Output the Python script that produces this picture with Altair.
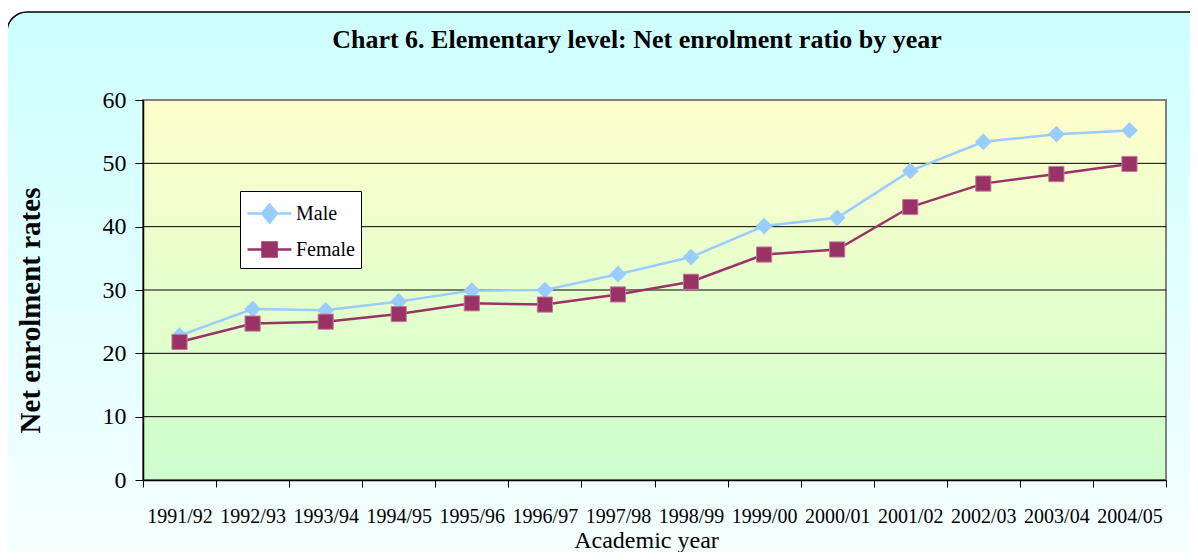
import altair as alt
import pandas as pd

years = ["1991/92", "1992/93", "1993/94", "1994/95", "1995/96", "1996/97", "1997/98",
         "1998/99", "1999/00", "2000/01", "2001/02", "2002/03", "2003/04", "2004/05"]
male = [22.8, 27.0, 26.8, 28.2, 29.9, 30.0, 32.5, 35.2, 40.1, 41.4, 48.8, 53.4, 54.6, 55.2]
female = [21.8, 24.7, 25.0, 26.2, 27.9, 27.7, 29.3, 31.3, 35.6, 36.4, 43.1, 46.8, 48.3, 49.9]
series_names = ["Male", "Female"]
series_colors = ["#99CCFF", "#993366"]
y_ticks = [0, 10, 20, 30, 40, 50, 60]
grid_values = [10, 20, 30, 40, 50]
title_text = "Chart 6. Elementary level: Net enrolment ratio by year"
x_title = "Academic year"
y_title = "Net enrolment rates"

W, H = 1023, 380
FONT = "Liberation Serif"

df = pd.DataFrame({
    "year": years * 2,
    "series": ["Male"] * len(years) + ["Female"] * len(years),
    "value": male + female,
})

x_axis = alt.Axis(title=x_title, labelAngle=0, tickBand="extent", tickSize=7, tickColor="black",
                  tickWidth=1, domainColor="black", domainWidth=1.5, labelFont=FONT, labelFontSize=20,
                  labelColor="black", labelBaseline="alphabetic", labelPadding=35, labelOverlap=False,
                  titleFont=FONT, titleFontSize=24, titleFontWeight="normal", titleColor="black",
                  titleX=503, titleY=67, titleAlign="center", titleBaseline="alphabetic",
                  grid=False, zindex=1)
y_axis = alt.Axis(values=y_ticks, title=y_title, tickSize=8, tickColor="black", domainColor="black",
                  domainWidth=1.5, labelFont=FONT, labelFontSize=24, labelColor="black", labelPadding=9,
                  titleFont=FONT, titleFontSize=29, titleFontWeight="bold", titleColor="black",
                  titleAngle=270, titleX=-104, titleY=210, titleAlign="center",
                  titleBaseline="alphabetic", grid=False, zindex=1)

x_scale = alt.Scale(type="band", domain=years, paddingInner=0, paddingOuter=0)
y_scale = alt.Scale(domain=[0, 60])
color_scale = alt.Scale(domain=series_names, range=series_colors)

x_enc = alt.X("year:N", sort=years, bandPosition=0.5, scale=x_scale, axis=x_axis)
y_enc = alt.Y("value:Q", scale=y_scale, axis=y_axis)

one = pd.DataFrame({"k": [0]})

outer_grad = alt.LinearGradient(gradient="linear", x1=0, x2=0, y1=0, y2=1,
                                stops=[alt.GradientStop(color="#CCFFFF", offset=0),
                                       alt.GradientStop(color="#F8FFFF", offset=1)])
plot_grad = alt.LinearGradient(gradient="linear", x1=0, x2=0, y1=0, y2=1,
                               stops=[alt.GradientStop(color="#FFFFCC", offset=0),
                                      alt.GradientStop(color="#CCFFCC", offset=1)])

outer_bg = alt.Chart(one).mark_rect(fill=outer_grad, stroke="black", strokeWidth=1.5,
                                    cornerRadius=20).encode(
    x=alt.value(-136), x2=alt.value(W + 60), y=alt.value(-88), y2=alt.value(H + 100))

plot_bg = alt.Chart(one).mark_rect(fill=plot_grad, stroke="#808080", strokeWidth=2).encode(
    x=alt.value(0), x2=alt.value(W), y=alt.value(0), y2=alt.value(H))

grid = alt.Chart(pd.DataFrame({"g": grid_values})).mark_rule(color="black", strokeWidth=1).encode(
    y=alt.Y("g:Q", scale=y_scale, axis=y_axis), x=alt.value(0), x2=alt.value(W))

lines_m = alt.Chart(df).transform_filter(alt.datum.series == "Male").mark_line(strokeWidth=2.5).encode(
    x=x_enc, y=y_enc, color=alt.Color("series:N", scale=color_scale, legend=None))
lines_f = alt.Chart(df).transform_filter(alt.datum.series == "Female").mark_line(strokeWidth=2.5).encode(
    x=x_enc, y=y_enc, color=alt.Color("series:N", scale=color_scale, legend=None))

pts_m = alt.Chart(df).transform_filter(alt.datum.series == "Male").mark_point(
    shape="diamond", filled=True, size=280, opacity=1).encode(
    x=x_enc, y=y_enc, color=alt.Color("series:N", scale=color_scale, legend=None))
pts_f = alt.Chart(df).transform_filter(alt.datum.series == "Female").mark_point(
    shape="square", filled=True, size=230, opacity=1, stroke="#C27A9E", strokeWidth=1).encode(
    x=x_enc, y=y_enc, color=alt.Color("series:N", scale=color_scale, legend=None))

lpath_male = "M-1,0L1.93,0M0.47,-0.6L0.97,0L0.47,0.6L-0.03,0Z"
lpath_female = "M-1,0L1.93,0M0,-0.47L0.94,-0.47L0.94,0.47L0,0.47Z"

leg = alt.Legend(title=None, orient="none", legendX=97, legendY=91, fillColor="white",
                 strokeColor="black", padding=6, symbolSize=900, symbolStrokeWidth=2.5,
                 symbolOpacity=1, labelFont=FONT, labelFontSize=20, labelColor="black",
                 labelOffset=17, rowPadding=5, zindex=1, labelLimit=200)

# invisible carrier layer (size 0) whose only visible product is the legend
legend_layer = alt.Chart(df).mark_point(filled=True, strokeWidth=2.5, size=0).encode(
    x=x_enc, y=y_enc,
    fill=alt.Fill("series:N", scale=alt.Scale(domain=series_names, range=series_colors), legend=leg),
    stroke=alt.Stroke("series:N", scale=alt.Scale(domain=series_names, range=series_colors), legend=leg),
    shape=alt.Shape("series:N", scale=alt.Scale(domain=series_names, range=[lpath_male, lpath_female]),
                    legend=leg),
)

title_layer = alt.Chart(pd.DataFrame({"t": [title_text]})).mark_text(
    font=FONT, fontSize=26, fontWeight="bold", align="center", baseline="alphabetic",
    color="black").encode(text="t:N", x=alt.value(494), y=alt.value(-52))

chart = alt.layer(
    outer_bg, plot_bg, grid, legend_layer, lines_m, pts_m, lines_f, pts_f, title_layer
).properties(
    width=W, height=H,
    padding={"left": 135, "top": 92, "right": 24, "bottom": 72},
    autosize=alt.AutoSizeParams(type="none"),
).configure_view(stroke=None).configure(background="white")

chart.save("out.html", embed_options={"renderer": "svg", "actions": False})
